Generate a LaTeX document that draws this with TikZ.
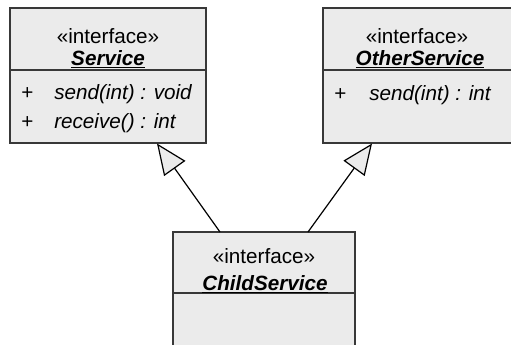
\documentclass[tikz,border=0pt]{standalone}
\usepackage{fontspec}
\setmainfont{Liberation Sans}
\usetikzlibrary{arrows.meta,calc}
\definecolor{boxfill}{HTML}{EBEBEB}
\definecolor{boxline}{HTML}{383838}
\begin{document}
\begin{tikzpicture}[x=0.75pt,y=-0.75pt,
  box/.style={draw=boxline, fill=boxfill, line width=1.1pt, inner sep=0pt, outer sep=0pt, anchor=north west},
  divider/.style={draw=boxline, line width=1.1pt},
  lbl/.style={font=\fontsize{15.5}{18}\selectfont, inner sep=0pt, anchor=base},
  nm/.style={font=\fontsize{15.5}{18}\selectfont\bfseries\itshape, inner sep=0pt, anchor=base},
  mem/.style={font=\fontsize{15.5}{18}\selectfont, inner sep=0pt, anchor=base west},
  inh/.style={draw=black, line width=0.9pt, -{Triangle[length=23pt, width=19.5pt, fill=boxfill]}}
]
\useasboundingbox (0,0) rectangle (511,344);
% Service
\node[box, minimum width=147pt, minimum height=101.25pt] (svc) at (10,8) {};
\draw[divider] ($(svc.north west)+(0,62)$) -- ($(svc.north east)+(0,62)$);
\node[lbl] (svcst) at (108,43) {«interface»};
\node[nm] (svcnm) at (108,65) {\underline{Service}};
\node[mem] (svcp1) at (21,99) {+};
\node[mem] (svcm1) at (54,99) {\itshape send(int) : void};
\node[mem] (svcp2) at (21,128) {+};
\node[mem] (svcm2) at (54,128) {\itshape receive() : int};
% OtherService
\node[box, minimum width=141.75pt, minimum height=101.25pt] (oth) at (323,8) {};
\draw[divider] ($(oth.north west)+(0,62)$) -- ($(oth.north east)+(0,62)$);
\node[lbl] (othst) at (417,43) {«interface»};
\node[nm] (othnm) at (420,65) {\underline{OtherService}};
\node[mem] (othp1) at (334,100) {+};
\node[mem] (othm1) at (369,100) {\itshape send(int) : int};
% ChildService
\node[box, minimum width=136.5pt, minimum height=97.5pt] (chd) at (173,232) {};
\draw[divider] ($(chd.north west)+(0,61)$) -- ($(chd.north east)+(0,61)$);
\node[lbl] (chdst) at (264,263) {«interface»};
\node[nm] (chdnm) at (265,290) {\underline{ChildService}};
% inheritance
\coordinate (t1) at (157,143.5);
\coordinate (s1) at (220,232);
\coordinate (t2) at (372,143.5);
\coordinate (s2) at (308,232);
\draw[inh] (s1) -- (t1);
\draw[inh] (s2) -- (t2);
\end{tikzpicture}
\end{document}
